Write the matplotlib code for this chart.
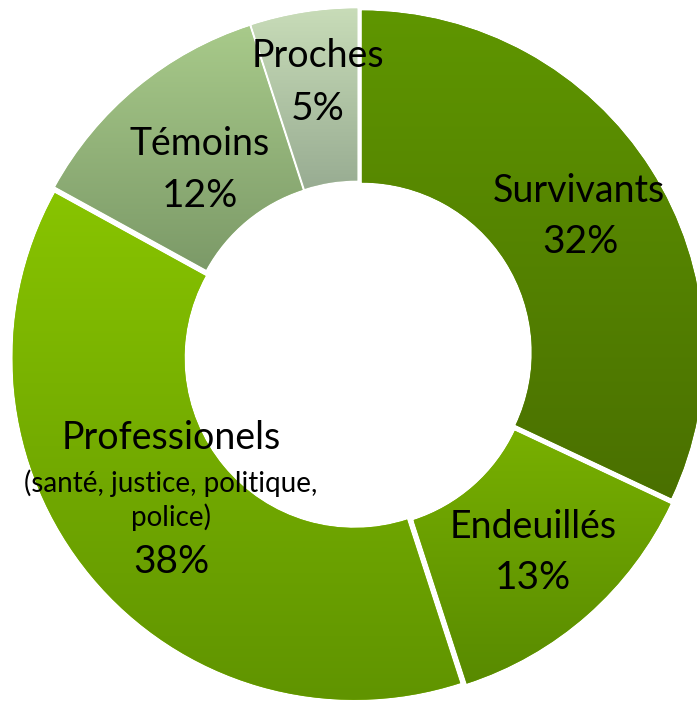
import numpy as np
import matplotlib
matplotlib.use('Agg')
import matplotlib.pyplot as plt
from matplotlib.colors import LinearSegmentedColormap

# Data
labels = ['Survivants', 'Endeuillés', 'Professionels', 'Témoins', 'Proches']
sublabels = ['', '', '(santé, justice, politique,\npolice)', '', '']
values = [32, 13, 38, 12, 5]
top_colors = ['#5f9600', '#78b000', '#88c400', '#a8ca8a', '#c8dcb8']
bottom_colors = ['#4a7000', '#588a00', '#609400', '#7c9a68', '#98ac92']

# label positions (image pixels, y down)
name_pos = [(579, 191), (533, 527), (171, 438), (200, 144), (318, 56)]
pct_pos = [(580, 242), (533, 578), (171, 562), (200, 196), (318, 109)]

W, H = 697, 702
fig = plt.figure(figsize=(W / 100, H / 100), dpi=100)
ax = fig.add_axes([0, 0, 1, 1])

cx, cy = 358, H - 355
R = 342
# explode is in data units (pixels here)
wedges, _ = ax.pie(values, startangle=90, counterclock=False, radius=R,
                   center=(cx, cy), explode=[4.5] * len(values),
                   wedgeprops=dict(width=R - 170, edgecolor='none'),
                   frame=True)
ax.set_xlim(0, W)
ax.set_ylim(0, H)
ax.set_aspect('equal')
ax.axis('off')

grad = np.linspace(0, 1, 256).reshape(-1, 1)
for w, c0, c1 in zip(wedges, top_colors, bottom_colors):
    w.set_facecolor(c0)
    bb = w.get_path().get_extents(w.get_transform() - ax.transData)
    cmap = LinearSegmentedColormap.from_list('g', [c0, c1])
    im = ax.imshow(grad, cmap=cmap, aspect='auto',
                   extent=(bb.x0, bb.x1, bb.y0, bb.y1), origin='upper',
                   zorder=2)
    im.set_clip_path(w)

font = 'Lato'
for i, lab in enumerate(labels):
    x, y = name_pos[i]
    ax.text(x, H - y, lab, ha='center', va='center', fontsize=27,
            family=font, color='black', zorder=5)
    x, y = pct_pos[i]
    ax.text(x, H - y, f'{values[i]}%', ha='center', va='center', fontsize=28,
            family=font, color='black', zorder=5)
    if sublabels[i]:
        ax.text(x, H - 500, sublabels[i], ha='center', va='center',
                fontsize=20, family=font, color='black', linespacing=1.3,
                zorder=5)

fig.savefig('out.png', dpi=100)
